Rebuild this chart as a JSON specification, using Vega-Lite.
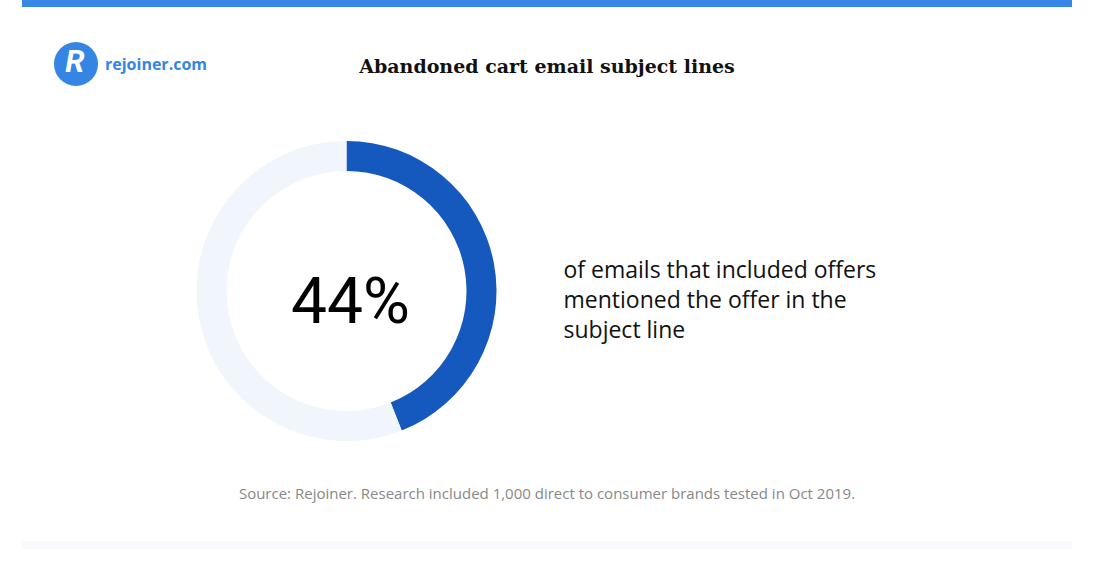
{
  "$schema": "https://vega.github.io/schema/vega-lite/v6.json",
  "background": "white",
  "padding": {"left": 22, "top": 0, "right": 0, "bottom": 0},
  "config": {"view": {"stroke": null}, "concat": {"spacing": 0}},
  "datasets": {
    "donut": [
      {"segment": "Offer in subject line", "pct": 44},
      {"segment": "Offer not in subject line", "pct": 56}
    ]
  },
  "vconcat": [
    {
      "width": 1050, "height": 7,
      "view": {"fill": "#3687e6", "stroke": null},
      "data": {"values": [{"label": ""}]},
      "mark": {"type": "text", "fontSize": 1},
      "encoding": {"text": {"field": "label"}}
    },
    {
      "hconcat": [
        {
          "width": 108, "height": 114,
          "data": {"values": [{"brand": "rejoiner.com", "initial": "R"}]},
          "layer": [
            {"mark": {"type": "circle", "size": 1936, "color": "#3585e5", "opacity": 1}, "encoding": {}},
            {"mark": {"type": "text", "font": "Roboto", "fontWeight": "bold", "fontStyle": "italic", "fontSize": 31, "color": "white", "baseline": "middle", "dx": -1, "dy": -1}, "encoding": {"text": {"field": "initial"}}},
            {"mark": {"type": "text", "font": "Open Sans", "fontWeight": "bold", "fontSize": 16, "color": "#3585e5", "align": "left", "baseline": "middle", "dx": 29, "dy": 1}, "encoding": {"text": {"field": "brand"}}}
          ]
        },
        {
          "width": 834, "height": 114,
          "data": {"values": [{"title": "Abandoned cart email subject lines"}]},
          "mark": {"type": "text", "font": "DejaVu Serif", "fontWeight": "bold", "fontSize": 19, "color": "#111111", "baseline": "middle", "dy": 3},
          "encoding": {"text": {"field": "title"}}
        }
      ],
      "spacing": 0,
      "bounds": "flush"
    },
    {
      "width": 649, "height": 340,
      "layer": [
        {
          "data": {"name": "donut"},
          "mark": {"type": "arc", "outerRadius": 150, "innerRadius": 120},
          "encoding": {
            "theta": {"field": "pct", "type": "quantitative", "stack": true},
            "color": {"field": "segment", "type": "nominal", "scale": {"domain": ["Offer in subject line", "Offer not in subject line"], "range": ["#1558be", "#f1f6fd"]}, "legend": null},
            "order": {"field": "pct", "sort": "ascending"}
          }
        },
        {
          "data": {"values": [{"label": "44%"}]},
          "mark": {"type": "text", "font": "Roboto", "fontWeight": 400, "fontSize": 64, "color": "#000000", "baseline": "middle", "dx": 4, "dy": 13},
          "encoding": {"text": {"field": "label"}}
        },
        {
          "data": {"values": [{"label": ["of emails that included offers", "mentioned the offer in the", "subject line"]}]},
          "mark": {"type": "text", "font": "Open Sans", "fontSize": 23, "lineHeight": 30, "color": "#111111", "align": "left", "baseline": "middle", "dx": 217, "dy": -20},
          "encoding": {"text": {"field": "label"}}
        }
      ]
    },
    {
      "width": 1050, "height": 80,
      "data": {"values": [{"source": "Source: Rejoiner. Research included 1,000 direct to consumer brands tested in Oct 2019."}]},
      "mark": {"type": "text", "font": "Open Sans", "fontSize": 15, "color": "#888888", "baseline": "middle", "dy": -7},
      "encoding": {"text": {"field": "source"}}
    },
    {
      "width": 1050, "height": 8,
      "view": {"fill": "#f8fafe", "stroke": null},
      "data": {"values": [{"label": ""}]},
      "mark": {"type": "text", "fontSize": 1},
      "encoding": {"text": {"field": "label"}}
    }
  ],
  "spacing": 0
}
